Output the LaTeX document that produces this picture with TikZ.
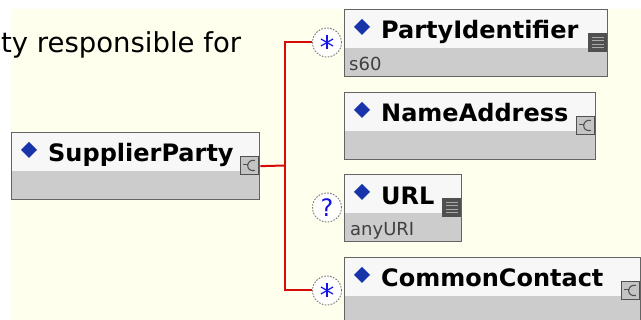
\documentclass[tikz,border=0pt]{standalone}
\usepackage{fontspec}
\setmainfont{DejaVu Sans}
\usetikzlibrary{calc}
\definecolor{bgyellow}{RGB}{255,255,238}
\definecolor{boxline}{RGB}{100,100,100}
\definecolor{boxtop}{RGB}{247,247,247}
\definecolor{boxbot}{RGB}{204,204,204}
\definecolor{connred}{RGB}{215,10,10}
\definecolor{diablue}{RGB}{24,52,170}
\definecolor{subgrey}{RGB}{64,64,64}
\definecolor{circline}{RGB}{120,120,120}
\definecolor{markblue}{RGB}{20,20,230}
\definecolor{iconfill}{RGB}{196,196,196}
\definecolor{icondark}{RGB}{80,80,80}
\definecolor{iconlight}{RGB}{170,170,170}
\tikzset{
  elembox/.style={draw=boxline, line width=1.3pt, fill=boxtop, inner sep=0pt,
    minimum height=67pt, anchor=north west,
    path picture={\fill[boxbot] ([yshift=-38pt]path picture bounding box.north west)
      rectangle (path picture bounding box.south east);}},
  titletext/.style={font=\fontsize{24}{28}\selectfont\bfseries, anchor=base west, inner sep=0pt},
  subtext/.style={font=\fontsize{18}{22}\selectfont, text=subgrey, anchor=base west, inner sep=0pt},
  occur/.style={circle, draw=circline, dash pattern=on 1.6pt off 1.4pt, line width=0.9pt,
    fill=white, minimum size=29pt, inner sep=0pt},
  conn/.style={draw=connred, line width=2pt},
  cicon/.style={draw=icondark, line width=0.9pt, fill=iconfill, minimum size=18pt,
    inner sep=0pt, anchor=north east,
    path picture={\draw[icondark, line width=1.1pt]
      ([xshift=5pt,yshift=5pt]path picture bounding box.center)
      .. controls ([xshift=-4pt,yshift=7pt]path picture bounding box.center)
      and ([xshift=-5pt,yshift=-7pt]path picture bounding box.center)
      .. ([xshift=5pt,yshift=-5pt]path picture bounding box.center);
      \draw[icondark, line width=1.1pt]
      ([xshift=-6.5pt,yshift=0.5pt]path picture bounding box.center) -- ([xshift=-2pt,yshift=0.5pt]path picture bounding box.center);}},
  sicon/.style={draw=icondark, line width=0.9pt, fill=icondark, minimum size=18pt,
    inner sep=0pt, anchor=north east,
    path picture={\foreach \yy in {5,1.5,-2,-5.5}{\draw[iconlight, line width=1pt]
      ([xshift=-6pt,yshift=\yy pt]path picture bounding box.center) --
      ([xshift=6pt,yshift=\yy pt]path picture bounding box.center);}}},
  star/.style={draw=markblue, line width=1.2pt},
}
\newcommand\elemdiamond[1]{\fill[diablue] ([xshift=18pt,yshift=-10pt]#1.north west)
  -- ++(8,8) -- ++(-8,8) -- ++(-8,-8) -- cycle;}
\newcommand\starmark[1]{%
  \draw[star] ([yshift=7pt]#1.center) -- ([yshift=-7pt]#1.center);
  \draw[star] ([xshift=6pt,yshift=3.5pt]#1.center) -- ([xshift=-6pt,yshift=-3.5pt]#1.center);
  \draw[star] ([xshift=-6pt,yshift=3.5pt]#1.center) -- ([xshift=6pt,yshift=-3.5pt]#1.center);}
\begin{document}
\begin{tikzpicture}[x=1pt, y=-1pt]
\useasboundingbox (0,0) rectangle (641,320);
\fill[white] (0,0) rectangle (641,320);
\fill[bgyellow] (11,9) rectangle (641,320);

\node[font=\fontsize{27.5}{32}\selectfont, anchor=base west, inner sep=0pt] (hdr) at (1,53) {ty responsible for};

% element boxes
\node[elembox, minimum width=248pt] (sp) at (11,132) {};
\node[elembox, minimum width=263pt] (pi) at (344,9) {};
\node[elembox, minimum width=251pt] (na) at (344,92) {};
\node[elembox, minimum width=117pt] (url) at (344,174) {};
\node[elembox, minimum width=296pt] (cc) at (344,257) {};

% titles
\node[titletext] (sp-t) at ([xshift=37pt,yshift=-30pt]sp.north west) {SupplierParty};
\node[titletext] (pi-t) at ([xshift=37pt,yshift=-30pt]pi.north west) {PartyIdentifier};
\node[titletext] (na-t) at ([xshift=37pt,yshift=-30pt]na.north west) {NameAddress};
\node[titletext] (url-t) at ([xshift=37pt,yshift=-31pt]url.north west) {URL};
\node[titletext] (cc-t) at ([xshift=37pt,yshift=-30pt]cc.north west) {CommonContact};

% type texts
\node[subtext] (pi-s) at ([xshift=5pt,yshift=-62pt]pi.north west) {s60};
\node[subtext] (url-s) at ([xshift=6pt,yshift=-62pt]url.north west) {anyURI};

% diamonds
\elemdiamond{sp}
\elemdiamond{pi}
\elemdiamond{na}
\elemdiamond{url}
\elemdiamond{cc}

% type icons
\node[cicon] (sp-i) at ([xshift=-1pt,yshift=-24pt]sp.north east) {};
\node[sicon] (pi-i) at ([xshift=-1pt,yshift=-24pt]pi.north east) {};
\node[cicon] (na-i) at ([xshift=-1pt,yshift=-24pt]na.north east) {};
\node[sicon] (url-i) at ([xshift=-1pt,yshift=-24pt]url.north east) {};
\node[cicon] (cc-i) at ([xshift=-1pt,yshift=-24pt]cc.north east) {};

% occurrence circles
\node[occur] (pi-c) at (327,42.5) {};
\node[occur, text=markblue, font=\fontsize{24}{26}\selectfont] (url-c) at (327,207.5) {?};
\node[occur] (cc-c) at (327,290.5) {};
\starmark{pi-c}
\starmark{cc-c}

% connectors
\coordinate (j) at (285,165.5);
\draw[conn] (sp.east) -- (j);
\draw[conn] (j) |- (pi-c.west);
\draw[conn] (j) |- (cc-c.west);
\end{tikzpicture}
\end{document}
